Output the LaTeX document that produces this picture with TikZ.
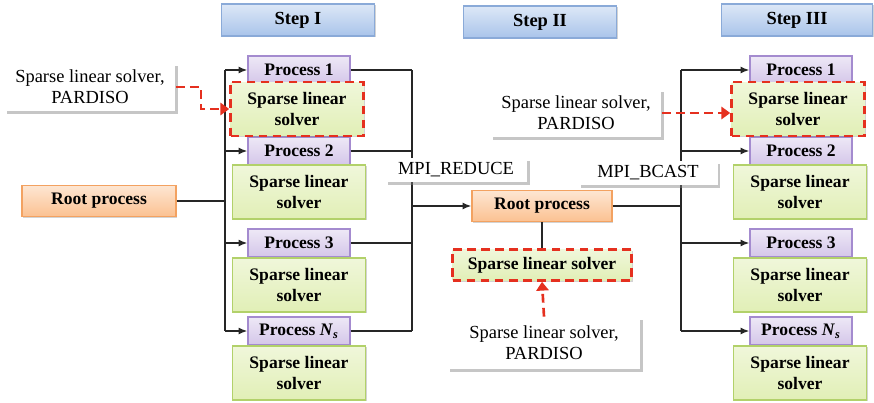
\documentclass[tikz,border=0pt]{standalone}
\usepackage{fontspec}
\setmainfont{Liberation Serif}
\usetikzlibrary{shadows,arrows.meta}

\definecolor{stepfill}{HTML}{A9C4EA}
\definecolor{stepline}{HTML}{8AAAD8}
\definecolor{procfill}{HTML}{D4C6E9}
\definecolor{procline}{HTML}{A48BCF}
\definecolor{solvfill}{HTML}{E1EFB6}
\definecolor{solvline}{HTML}{B2D16A}
\definecolor{rootfill}{HTML}{FBC191}
\definecolor{rootline}{HTML}{F3A261}
\definecolor{dashred}{HTML}{E5301F}

\tikzset{
  box/.style={draw, thick, font=\fontsize{10}{12}\selectfont\bfseries, align=center, inner sep=1pt,
              drop shadow={shadow xshift=0.8pt, shadow yshift=-0.8pt, opacity=0.35}},
  stepbox/.style={box, top color=stepfill!40, bottom color=stepfill, draw=stepline,
                  font=\fontsize{10.5}{12}\selectfont\bfseries,
                  minimum width=3.06cm, minimum height=0.64cm},
  procbox/.style={box, top color=procfill!40, bottom color=procfill, draw=procline,
                  minimum width=2.04cm, minimum height=0.56cm},
  solverbox/.style={box, top color=solvfill!50, bottom color=solvfill, draw=solvline,
                    minimum width=2.66cm, minimum height=1.08cm},
  hint/.style={draw=dashred, line width=1.5pt, dash pattern=on 5pt off 3pt},
  rootbox/.style={box, top color=rootfill!40, bottom color=rootfill, draw=rootline,
                  minimum height=0.63cm},
  notebox/.style={fill=white, font=\fontsize{10.5}{12}\selectfont, align=center,
                  minimum width=3.42cm, minimum height=0.96cm,
                  drop shadow={shadow xshift=1.5pt, shadow yshift=-1.5pt, opacity=0.45}},
  mpilabel/.style={fill=white, font=\fontsize{10.5}{12}\selectfont, inner sep=2pt,
                   minimum height=0.48cm,
                   drop shadow={shadow xshift=1.5pt, shadow yshift=-1.5pt, opacity=0.45}},
  redarrow/.style={draw=dashred, line width=1.5pt, dash pattern=on 5pt off 3pt,
                   -{Triangle[length=5pt,width=7pt]}},
  link/.style={thick, black!85},
  linkarrow/.style={link, -{Latex[length=5pt,width=4pt]}}
}

\begin{document}
\begin{tikzpicture}[x=0.02cm, y=-0.02cm]
  \useasboundingbox (0,0) rectangle (874,402);

  % step titles
  \node[stepbox] (stepA) at (298,20) {Step I};
  \node[stepbox] (stepB) at (540,22) {Step II};
  \node[stepbox, minimum width=3.02cm] (stepC) at (797,20) {Step III};

  % step I and step III columns
  \foreach \c/\px/\sx in {A/299/297, C/801/798} {
    \node[procbox] (p\c1) at (\px,70) {Process 1};
    \node[procbox] (p\c2) at (\px,151) {Process 2};
    \node[procbox] (p\c3) at (\px,243) {Process 3};
    \node[procbox] (p\c4) at (\px,331) {Process \textit{N}\textsubscript{\textit{s}}};
    \node[solverbox, hint] (s\c1) at (\sx,109) {Sparse linear\\solver};
    \node[solverbox] (s\c2) at (\sx+2,192) {Sparse linear\\solver};
    \node[solverbox] (s\c3) at (\sx+2,285) {Sparse linear\\solver};
    \node[solverbox] (s\c4) at (\sx+2,373) {Sparse linear\\solver};
  }

  % root processes
  \node[rootbox, minimum width=3.08cm] (rootA) at (99,201) {Root process};
  \node[rootbox, minimum width=2.80cm] (rootB) at (542,206) {Root process};
  \node[solverbox, hint, minimum width=3.58cm, minimum height=0.62cm] (sB) at (542,265) {Sparse linear solver};

  % notes
  \node[notebox] (noteA) at (90,87) {Sparse linear solver,\\PARDISO};
  \node[notebox] (noteC) at (576,113) {Sparse linear solver,\\PARDISO};
  \node[notebox, minimum width=3.86cm, minimum height=1.04cm] (noteB) at (544,343) {Sparse linear solver,\\PARDISO};

  % bus lines
  \coordinate (busA) at (225,0);
  \coordinate (busR) at (412,0);
  \coordinate (busC) at (681,0);

  % root -> step I processes
  \draw[link] (rootA.east) -- (rootA.east -| busA);
  \draw[link] (busA |- pA1.west) -- (busA |- pA4.west);
  \foreach \i in {1,2,3,4}
    \draw[linkarrow] (busA |- pA\i.west) -- (pA\i.west);

  % MPI_REDUCE
  \foreach \i in {1,2,3,4}
    \draw[link] (pA\i.east) -- (busR |- pA\i.east);
  \draw[link] (busR |- pA1.east) -- (busR |- pA4.east);
  \draw[linkarrow] (busR |- rootB.west) -- (rootB.west);
  \node[mpilabel, minimum width=2.84cm] (reduce) at (456,170) {MPI\_REDUCE};

  % MPI_BCAST
  \draw[link] (rootB.east) -- (rootB.east -| busC);
  \draw[link] (busC |- pC1.west) -- (busC |- pC4.west);
  \foreach \i in {1,2,3,4}
    \draw[linkarrow] (busC |- pC\i.west) -- (pC\i.west);
  \node[mpilabel, minimum width=2.78cm] (bcast) at (648,173) {MPI\_BCAST};

  \draw[link] (rootB.south) -- (sB.north);

  % PARDISO hints
  \draw[redarrow] (noteA.east) -- ++(25,0) |- (sA1.west);
  \draw[redarrow] (noteC.east) -- (noteC.east -| sC1.west);
  \draw[redarrow] (noteB.north) -- (sB.south);
\end{tikzpicture}
\end{document}
